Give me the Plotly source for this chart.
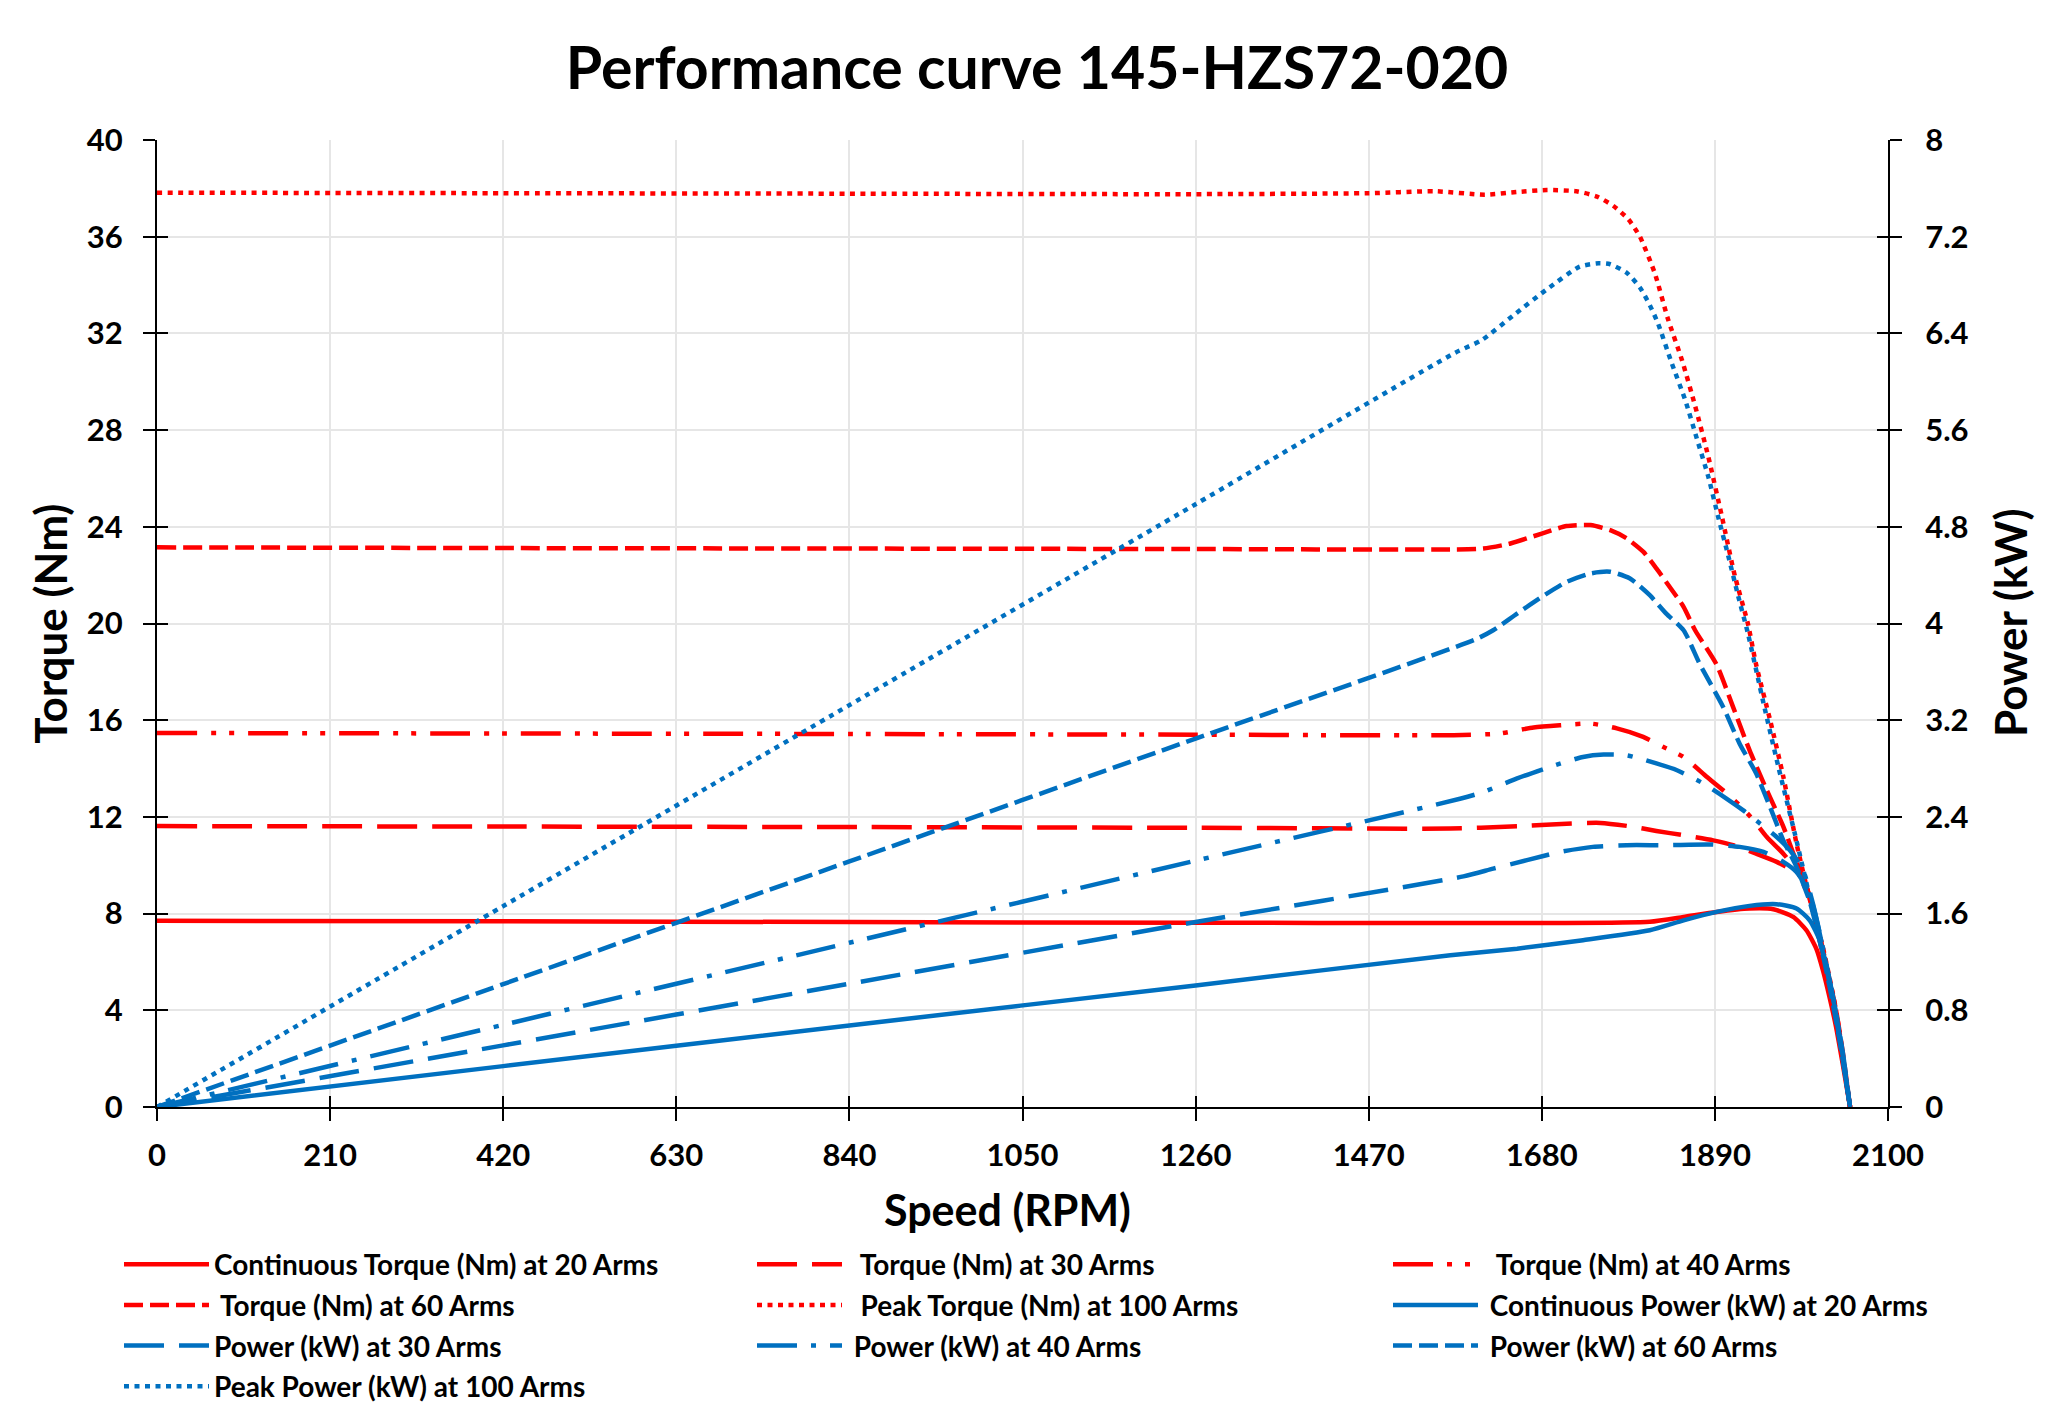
import plotly.graph_objects as go

# speed (RPM) / torque (Nm) / power (kW)
spd_t20 = [0, 420, 840, 1260, 1569, 1690, 1811, 1852, 1892, 1932, 1961, 1985, 2001, 2013, 2021, 2029, 2037, 2045, 2054]
trq_t20 = [7.70, 7.68, 7.65, 7.62, 7.61, 7.61, 7.66, 7.86, 8.07, 8.21, 8.18, 7.86, 7.31, 6.55, 5.66, 4.55, 3.31, 1.79, 0]

spd_t30 = [0, 420, 840, 1260, 1569, 1650, 1710, 1751, 1787, 1819, 1852, 1888, 1912, 1940, 1965, 1985, 1997, 2005, 2017, 2029, 2041, 2054]
trq_t30 = [11.62, 11.60, 11.58, 11.55, 11.52, 11.61, 11.72, 11.75, 11.61, 11.42, 11.24, 11.03, 10.83, 10.48, 10.14, 9.77, 9.45, 8.7, 6.9, 5.0, 2.8, 0]

spd_t40 = [0, 420, 840, 1260, 1573, 1629, 1670, 1702, 1739, 1771, 1803, 1827, 1852, 1880, 1900, 1920, 1937, 1953, 1973, 1989, 2005, 2017, 2029, 2041, 2054]
trq_t40 = [15.47, 15.45, 15.43, 15.40, 15.38, 15.45, 15.70, 15.79, 15.86, 15.66, 15.31, 14.90, 14.48, 13.66, 13.10, 12.48, 11.86, 11.17, 10.48, 9.79, 8.6, 7.0, 5.1, 2.9, 0]

spd_t60 = [0, 420, 840, 1260, 1569, 1609, 1642, 1680, 1710, 1739, 1763, 1783, 1803, 1819, 1835, 1852, 1866, 1892, 1912, 1932, 1953, 1973, 1985, 2001, 2013, 2025, 2037, 2045, 2054]
trq_t60 = [23.15, 23.12, 23.10, 23.08, 23.06, 23.10, 23.31, 23.72, 24.03, 24.07, 23.86, 23.52, 22.97, 22.28, 21.52, 20.69, 19.72, 18.3, 16.55, 14.76, 13.1, 11.6, 10.5, 9.1, 7.7, 5.9, 4.0, 2.3, 0]

spd_t100 = [0, 420, 840, 1260, 1470, 1550, 1611, 1650, 1686, 1722, 1747, 1767, 1785, 1799, 1817, 1833, 1850, 1866, 1882, 1898, 1914, 1930, 1940, 1957, 1973, 1989, 2005, 2021, 2037, 2054]
trq_t100 = [37.82, 37.80, 37.78, 37.76, 37.80, 37.88, 37.74, 37.85, 37.93, 37.88, 37.66, 37.27, 36.72, 36.0, 34.5, 32.6, 30.9, 29.0, 26.9, 24.5, 22.0, 20.0, 18.3, 16.0, 13.66, 10.9, 8.6, 6.6, 4.0, 0]

spd_p20 = [0, 420, 840, 1260, 1569, 1650, 1730, 1811, 1852, 1892, 1932, 1965, 1989, 2005, 2017, 2025, 2033, 2041, 2054]
pwr_p20 = [0, 0.338, 0.675, 1.006, 1.256, 1.31, 1.38, 1.462, 1.544, 1.614, 1.664, 1.678, 1.642, 1.544, 1.38, 1.158, 0.91, 0.606, 0]

spd_p30 = [0, 420, 840, 1260, 1585, 1621, 1662, 1702, 1742, 1783, 1831, 1884, 1920, 1949, 1973, 1989, 2005, 2017, 2029, 2041, 2054]
pwr_p30 = [0, 0.51, 1.02, 1.53, 1.908, 1.972, 2.042, 2.11, 2.152, 2.166, 2.166, 2.172, 2.152, 2.11, 2.028, 1.944, 1.76, 1.44, 1.04, 0.58, 0]

spd_p40 = [0, 420, 840, 1260, 1582, 1609, 1650, 1690, 1730, 1755, 1783, 1819, 1844, 1876, 1904, 1924, 1945, 1965, 1981, 1997, 2009, 2021, 2033, 2045, 2054]
pwr_p40 = [0, 0.68, 1.359, 2.038, 2.552, 2.606, 2.718, 2.814, 2.896, 2.916, 2.91, 2.842, 2.786, 2.676, 2.552, 2.456, 2.344, 2.234, 2.124, 1.96, 1.68, 1.32, 0.92, 0.46, 0]

spd_p60 = [0, 420, 840, 1260, 1600, 1621, 1650, 1680, 1710, 1739, 1763, 1787, 1811, 1831, 1852, 1872, 1900, 1920, 1940, 1957, 1973, 1989, 2005, 2017, 2029, 2041, 2054]
pwr_p60 = [0, 1.016, 2.032, 3.048, 3.87, 3.944, 4.082, 4.22, 4.344, 4.414, 4.428, 4.372, 4.234, 4.082, 3.944, 3.66, 3.31, 3.006, 2.76, 2.48, 2.206, 1.986, 1.7, 1.38, 1.0, 0.56, 0]

spd_p100 = [0, 420, 840, 1260, 1575, 1607, 1646, 1686, 1726, 1749, 1763, 1783, 1799, 1811, 1821, 1837, 1854, 1868, 1882, 1894, 1906, 1918, 1930, 1949, 1967, 1987, 2005, 2021, 2037, 2054]
pwr_p100 = [0, 1.662, 3.325, 4.987, 6.24, 6.344, 6.552, 6.764, 6.952, 6.98, 6.972, 6.902, 6.78, 6.634, 6.482, 6.166, 5.848, 5.532, 5.214, 4.882, 4.566, 4.234, 3.92, 3.34, 2.814, 2.26, 1.74, 1.28, 0.78, 0]

RED = '#FF0000'
BLUE = '#0070C0'
TXT = 'Lato'

D30 = '40px,15px'
D40T = '40px,14px,5px,13px,5px,14px'
D40P = '40px,14px,5px,14px'
D60 = '19px,7px'
D100 = '5px,5.5px'

# (name, x, y, dash, axis, legend column)
series = [
    ('Continuous Torque (Nm) at 20 Arms', spd_t20, trq_t20, 'solid', 'y', 'legend'),
    ('  Torque (Nm) at 30 Arms', spd_t30, trq_t30, D30, 'y', 'legend2'),
    ('  Torque (Nm) at 40 Arms', spd_t40, trq_t40, D40T, 'y', 'legend3'),
    (' Torque (Nm) at 60 Arms', spd_t60, trq_t60, D60, 'y', 'legend'),
    ('  Peak Torque (Nm) at 100 Arms', spd_t100, trq_t100, D100, 'y', 'legend2'),
    (' Continuous Power (kW) at 20 Arms', spd_p20, pwr_p20, 'solid', 'y2', 'legend3'),
    ('Power (kW) at 30 Arms', spd_p30, pwr_p30, D30, 'y2', 'legend'),
    (' Power (kW) at 40 Arms', spd_p40, pwr_p40, D40P, 'y2', 'legend2'),
    (' Power (kW) at 60 Arms', spd_p60, pwr_p60, D60, 'y2', 'legend3'),
    ('Peak Power (kW) at 100 Arms', spd_p100, pwr_p100, D100, 'y2', 'legend'),
]

fig = go.Figure()
for name, x, y, dash, ax, leg in series:
    fig.add_trace(go.Scatter(x=x, y=y, name=name, mode='lines', yaxis=ax, legend=leg,
                             legendgroup=name,
                             line=dict(color=RED if ax == 'y' else BLUE, width=4.5, dash=dash,
                                       shape='spline', smoothing=0.6)))
# empty traces so the inner tick axes get drawn
fig.add_trace(go.Scatter(x=[], y=[], xaxis='x2', yaxis='y3', showlegend=False, hoverinfo='skip'))
fig.add_trace(go.Scatter(x=[], y=[], xaxis='x2', yaxis='y4', showlegend=False, hoverinfo='skip'))

W, H = 2032, 1394
legfont = dict(family=TXT, size=28, color='black', weight='bold')
leg = dict(orientation='v', xref='container', yref='container', xanchor='left', yanchor='top',
           y=1 - 1231.5 / H, font=legfont, itemwidth=85, tracegroupgap=1.3,
           bgcolor='rgba(0,0,0,0)', traceorder='grouped')

fig.update_layout(
    width=W, height=H,
    paper_bgcolor='white', plot_bgcolor='white',
    margin=dict(l=149, r=152, t=132, b=295, autoexpand=False),
    title=dict(text='Performance curve 145-HZS72-020', x=1029 / W, xanchor='center',
               y=1 - 60 / H, yanchor='middle', yref='container',
               font=dict(family=TXT, size=59, color='black', weight='bold')),
    showlegend=True,
    legend=dict(leg, x=111 / W),
    legend2=dict(leg, x=744 / W),
    legend3=dict(leg, x=1380 / W),
)

tickfont = dict(family=TXT, size=31, color='black', weight='bold')
common = dict(ticks='outside', ticklen=12, tickwidth=2, tickcolor='black',
              showline=True, linecolor='black', linewidth=2, zeroline=False, tickfont=tickfont)
inner = dict(ticks='inside', ticklen=11, tickwidth=2, tickcolor='black',
             showticklabels=False, showgrid=False, showline=False, zeroline=False)

fig.update_layout(
    xaxis=dict(common, range=[0, 2100], dtick=210, tick0=0, ticklabelstandoff=8,
               showgrid=True, gridcolor='#E6E6E6', gridwidth=2),
    xaxis2=dict(inner, overlaying='x', anchor='y', side='bottom', range=[0, 2100], dtick=210, tick0=0),
    yaxis=dict(common, range=[0, 40], dtick=4, tick0=0, ticklabelstandoff=14,
               showgrid=True, gridcolor='#E6E6E6', gridwidth=2),
    yaxis2=dict(common, range=[0, 8], dtick=0.8, tick0=0, overlaying='y', side='right',
                ticklabelstandoff=17, showgrid=False),
    yaxis3=dict(inner, overlaying='y', anchor='x', side='left', range=[0, 40], dtick=4, tick0=0),
    yaxis4=dict(inner, overlaying='y', anchor='x', side='right', range=[0, 8], dtick=0.8, tick0=0),
)

titlefont = dict(family=TXT, size=44, color='black', weight='bold')
fig.add_annotation(text='Speed (RPM)', xref='paper', yref='paper', x=0.4916, y=-0.1055,
                   xanchor='center', yanchor='middle',
                   showarrow=False, font=dict(titlefont, size=43))
fig.add_annotation(text='Torque (Nm)', xref='paper', yref='paper', x=-0.0620, y=0.4995,
                   xanchor='center', yanchor='middle',
                   showarrow=False, textangle=-90, font=titlefont)
fig.add_annotation(text='Power (kW)', xref='paper', yref='paper', x=1.0705, y=0.5005,
                   xanchor='center', yanchor='middle',
                   showarrow=False, textangle=-90, font=titlefont)

fig.write_html("out.html")
